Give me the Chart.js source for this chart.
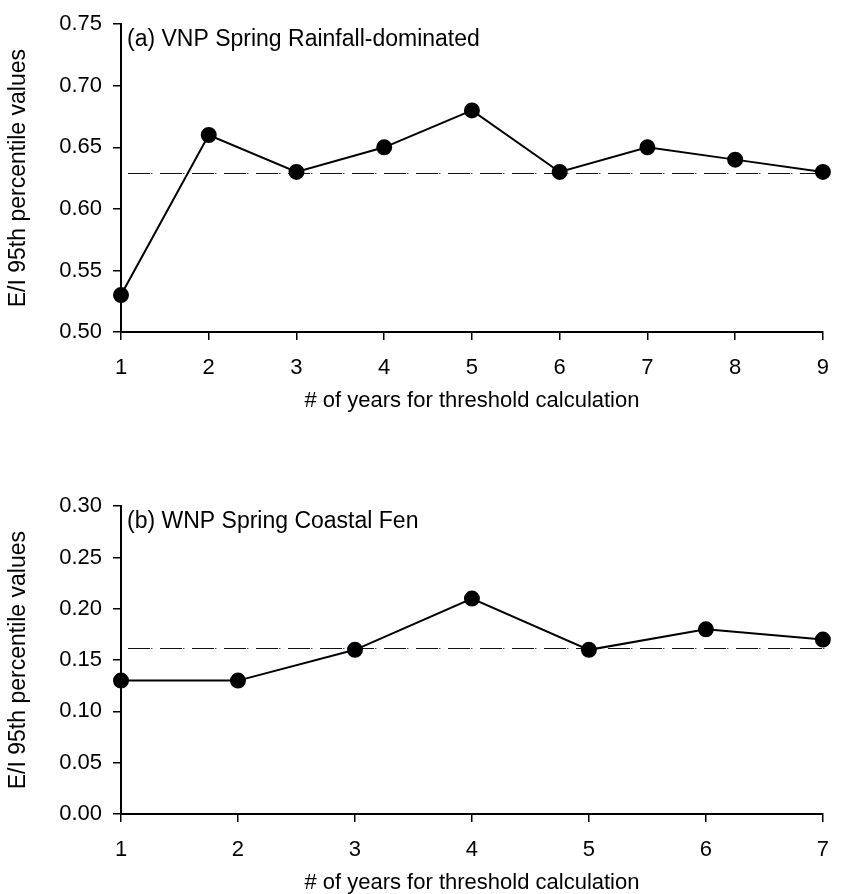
<!DOCTYPE html>
<html>
<head>
<meta charset="utf-8">
<script src="https://cdn.jsdelivr.net/npm/chart.js@4.4.0/dist/chart.umd.min.js"></script>
<style>
    html, body { margin: 0; padding: 0; background: #fff; overflow: hidden; }
    #wrap { position: relative; width: 844px; height: 894px; overflow: hidden; }
    .panel { position: absolute; left: 0; width: 844px; height: 420px; }
</style>
</head>
<body>
<div id="wrap">
    <div class="panel" style="top:0px"><canvas id="chartA" width="844" height="420"></canvas></div>
    <div class="panel" style="top:482px"><canvas id="chartB" width="844" height="420"></canvas></div>
</div>
<script>
// Panel (a) VNP Spring Rainfall-dominated
const yearsA = ['1', '2', '3', '4', '5', '6', '7', '8', '9'];
const valuesA = [0.53, 0.66, 0.63, 0.65, 0.68, 0.63, 0.65, 0.64, 0.63];
const thresholdA = 0.629;
const yRangeA = [0.50, 0.75];

// Panel (b) WNP Spring Coastal Fen
const yearsB = ['1', '2', '3', '4', '5', '6', '7'];
const valuesB = [0.13, 0.13, 0.16, 0.21, 0.16, 0.18, 0.17];
const thresholdB = 0.162;
const yRangeB = [0.00, 0.30];

const yStep = 0.05;
const xTitle = '# of years for threshold calculation';
const yTitle = 'E/I 95th percentile values';

const FONT = '"Liberation Sans", Arial, sans-serif';

// dashed threshold line + panel label, drawn through the y scale
const panelDecor = {
    id: 'panelDecor',
    beforeDatasetsDraw(chart, args, opts) {
        const { ctx, chartArea, scales } = chart;
        const y = Math.round(scales.y.getPixelForValue(opts.threshold)) + 0.5;
        const x0 = chartArea.left + 7;
        const x1 = chartArea.right + 3;
        ctx.save();
        ctx.lineWidth = 1.2;
        ctx.strokeStyle = '#111';
        ctx.setLineDash([22, 10]);
        ctx.beginPath();
        ctx.moveTo(x0, y);
        ctx.lineTo(x1, y);
        ctx.stroke();
        // small blue dots sitting in the dash gaps
        ctx.strokeStyle = '#3a3aff';
        ctx.lineWidth = 1;
        ctx.setLineDash([1.5, 30.5]);
        ctx.lineDashOffset = -23;
        ctx.beginPath();
        ctx.moveTo(x0, y);
        ctx.lineTo(x1, y);
        ctx.stroke();
        ctx.restore();
    },
    afterDraw(chart, args, opts) {
        const { ctx, chartArea } = chart;
        ctx.save();
        ctx.fillStyle = '#000';
        ctx.font = '23px ' + FONT;
        ctx.textBaseline = 'middle';
        ctx.textAlign = 'left';
        ctx.fillText(opts.label, chartArea.left + 6, chartArea.top + 15);
        ctx.restore();
    }
};

function makePanel(canvasId, labels, values, threshold, yRange, label) {
    return new Chart(document.getElementById(canvasId), {
        type: 'line',
        data: {
            labels: labels,
            datasets: [{
                data: values,
                borderColor: '#000',
                backgroundColor: '#000',
                borderWidth: 2,
                pointRadius: 7,
                pointHoverRadius: 7,
                pointBackgroundColor: '#000',
                pointBorderColor: '#000',
                tension: 0,
                clip: false
            }]
        },
        options: {
            responsive: false,
            animation: false,
            events: [],
            layout: { padding: { top: 17, right: 11, bottom: 0, left: 0 } },
            plugins: {
                legend: { display: false },
                tooltip: { enabled: false },
                panelDecor: { threshold: threshold, label: label }
            },
            scales: {
                x: {
                    offset: false,
                    grid: { display: true, drawOnChartArea: false, drawTicks: true, tickLength: 8, color: '#000', lineWidth: 1.5 },
                    border: { display: true, color: '#000', width: 2 },
                    ticks: { color: '#000', padding: 15, font: { family: FONT, size: 22 }, maxRotation: 0 },
                    title: { display: true, text: xTitle, color: '#000', font: { family: FONT, size: 22 }, padding: { top: 0, bottom: 6 } },
                    afterFit(scale) { scale.height = 88; }
                },
                y: {
                    min: yRange[0],
                    max: yRange[1],
                    grid: { display: true, drawOnChartArea: false, drawTicks: true, tickLength: 8, color: '#000', lineWidth: 1.5 },
                    border: { display: true, color: '#000', width: 2 },
                    ticks: {
                        stepSize: yStep,
                        color: '#000',
                        padding: 11,
                        font: { family: FONT, size: 22 },
                        callback: v => v.toFixed(2)
                    },
                    title: { display: true, text: yTitle, color: '#000', font: { family: FONT, size: 23 }, padding: { top: 5, bottom: 0 } },
                    afterFit(scale) { scale.width = 121; }
                }
            }
        },
        plugins: [panelDecor]
    });
}

makePanel('chartA', yearsA, valuesA, thresholdA, yRangeA, '(a) VNP Spring Rainfall-dominated');
makePanel('chartB', yearsB, valuesB, thresholdB, yRangeB, '(b) WNP Spring Coastal Fen');
</script>
</body>
</html>
